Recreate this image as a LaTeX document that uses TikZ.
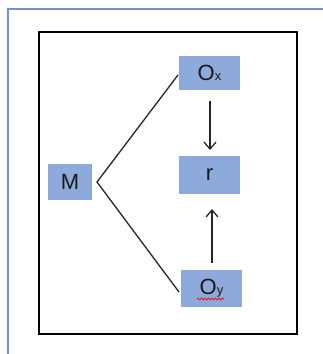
\documentclass[tikz,border=0pt]{standalone}
\usepackage{fontspec}
\setmainfont{Liberation Sans}
\usetikzlibrary{arrows.meta,decorations.pathmorphing}
\definecolor{boxblue}{HTML}{8EAADB}
\definecolor{framebl}{HTML}{6F93CC}
\newcommand{\subtx}[1]{{\fontsize{13}{13}\selectfont #1}}
\tikzset{
  bx/.style={fill=boxblue, draw=none, inner sep=0pt, text=black!90, font=\fontsize{22}{22}\selectfont},
  ln/.style={line width=1.3pt, black!85},
  arr/.style={line width=1.3pt, black!85, -{Straight Barb[length=7pt,width=12pt,line width=1.3pt]}}
}
\begin{document}
\begin{tikzpicture}[x=1pt,y=-1pt]
\useasboundingbox (0,0) rectangle (323,354);
\draw[framebl, line width=1.4pt] (8,360) -- (8,9) -- (330,9);
\draw[black, line width=1.5pt] (39,32) rectangle (297,334);
\node[bx, minimum width=61pt, minimum height=34pt] (ox) at (209.5,73) {O\subtx{x}};
\node[bx, minimum width=61pt, minimum height=38pt] (r) at (209.5,175) {r};
\node[bx, minimum width=61pt, minimum height=37pt] (oy) at (211.5,288.5) {O\subtx{y}};
\node[bx, minimum width=44pt, minimum height=36pt] (m) at (70,182) {M};
\coordinate (apex) at (97,182);
\coordinate (ta) at (178,75);
\coordinate (tb) at (179,292);
\draw[ln] (ta) -- (apex) -- (tb);
\coordinate (d1) at (210,101);
\coordinate (d2) at (210,150);
\coordinate (u1) at (212,263);
\coordinate (u2) at (212,209);
\draw[arr] (d1) -- (d2);
\draw[arr] (u1) -- (u2);
\draw[red, line width=0.7pt, decorate, decoration={snake, amplitude=1pt, segment length=3.5pt}] (197,299) -- (224,299);
\end{tikzpicture}
\end{document}
